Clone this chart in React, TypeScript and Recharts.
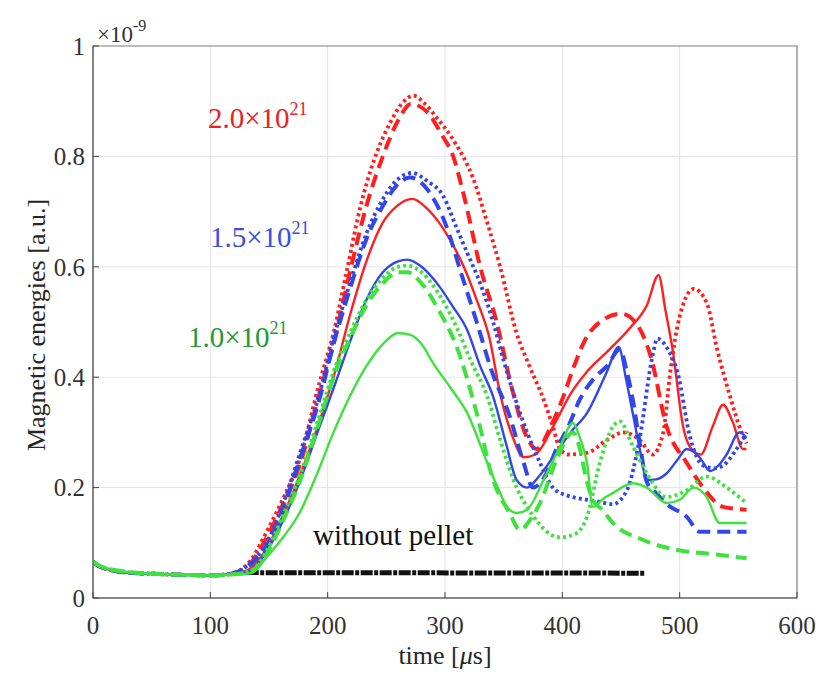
import { CartesianGrid, Line, LineChart, ReferenceArea, XAxis, YAxis } from "recharts"

// time [us] vs magnetic energy [x1e-9 a.u.]
type Pair = [number, number]

const xTicks = [0, 100, 200, 300, 400, 500, 600]
const yTicks = [0, 0.2, 0.4, 0.6, 0.8, 1]
const yTickLabels = ["0", "0.2", "0.4", "0.6", "0.8", "1"]

const noPellet: Pair[] = [[131, 0.046], [470, 0.045]]

const red20Dotted: Pair[] = [
  [0, 0.065], [5, 0.058], [15, 0.051], [30, 0.046], [50, 0.044], [75, 0.042], [100, 0.041], [118, 0.044],
  [135, 0.07], [148, 0.12], [162, 0.18], [176, 0.25], [193, 0.39], [205, 0.48], [217, 0.6], [228, 0.71],
  [239, 0.79], [253, 0.86], [263, 0.895], [273, 0.91], [283, 0.895], [293, 0.87], [307, 0.83], [324, 0.76],
  [336, 0.68], [347, 0.6], [361, 0.48], [372, 0.42], [384, 0.36], [392, 0.31], [398, 0.27], [405, 0.26],
  [421, 0.263], [438, 0.286], [452, 0.3], [466, 0.286], [477, 0.26], [486, 0.3], [492, 0.41], [500, 0.51],
  [512, 0.56], [523, 0.535], [532, 0.45], [543, 0.365], [551, 0.31], [557, 0.28],
]

const red20Dashed: Pair[] = [
  [0, 0.065], [5, 0.058], [15, 0.051], [30, 0.046], [50, 0.044], [75, 0.042], [100, 0.041], [118, 0.044],
  [135, 0.065], [148, 0.11], [162, 0.17], [176, 0.24], [193, 0.37], [205, 0.46], [220, 0.6], [233, 0.71],
  [247, 0.8], [260, 0.865], [271, 0.895], [285, 0.88], [297, 0.84], [307, 0.8], [316, 0.73], [330, 0.6],
  [344, 0.5], [357, 0.38], [370, 0.29], [378, 0.27], [390, 0.31], [400, 0.36], [410, 0.42], [420, 0.47],
  [432, 0.5], [450, 0.515], [462, 0.5], [475, 0.44], [489, 0.31], [506, 0.245], [520, 0.2], [537, 0.165],
  [557, 0.16],
]

const red20Solid: Pair[] = [
  [0, 0.065], [5, 0.058], [15, 0.051], [30, 0.046], [50, 0.044], [75, 0.042], [100, 0.041], [120, 0.043],
  [135, 0.055], [148, 0.09], [162, 0.15], [176, 0.22], [193, 0.32], [205, 0.4], [220, 0.52], [233, 0.61],
  [247, 0.68], [259, 0.71], [272, 0.723], [285, 0.705], [295, 0.68], [304, 0.65], [316, 0.6], [327, 0.54],
  [338, 0.47], [347, 0.37], [358, 0.29], [367, 0.255], [377, 0.26], [392, 0.31], [407, 0.37], [421, 0.41],
  [440, 0.45], [458, 0.49], [472, 0.53], [482, 0.585], [488, 0.52], [494, 0.45], [503, 0.31], [510, 0.27],
  [518, 0.26], [528, 0.31], [537, 0.35], [545, 0.32], [554, 0.27], [557, 0.27],
]

const blue15Dotted: Pair[] = [
  [0, 0.065], [5, 0.058], [15, 0.051], [30, 0.046], [50, 0.044], [75, 0.042], [100, 0.041], [118, 0.044],
  [135, 0.065], [148, 0.1], [162, 0.17], [176, 0.26], [193, 0.37], [205, 0.47], [219, 0.57], [233, 0.66],
  [245, 0.715], [258, 0.755], [272, 0.77], [285, 0.755], [298, 0.73], [310, 0.67], [319, 0.625], [330, 0.57],
  [341, 0.5], [350, 0.43], [360, 0.36], [370, 0.3], [381, 0.245], [392, 0.2], [405, 0.185], [415, 0.18],
  [430, 0.175], [443, 0.17], [455, 0.195], [466, 0.29], [477, 0.44], [481, 0.47], [490, 0.45], [498, 0.41],
  [509, 0.29], [520, 0.24], [530, 0.235], [537, 0.24], [547, 0.265], [557, 0.3],
]

const blue15Dashed: Pair[] = [
  [0, 0.065], [5, 0.058], [15, 0.051], [30, 0.046], [50, 0.044], [75, 0.042], [100, 0.041], [118, 0.044],
  [135, 0.062], [148, 0.095], [162, 0.16], [176, 0.25], [193, 0.36], [205, 0.46], [219, 0.56], [233, 0.65],
  [247, 0.71], [260, 0.75], [270, 0.762], [285, 0.74], [300, 0.68], [315, 0.58], [327, 0.5], [340, 0.41],
  [355, 0.33], [367, 0.245], [375, 0.2], [385, 0.22], [395, 0.27], [405, 0.31], [415, 0.36], [428, 0.4],
  [438, 0.42], [449, 0.45], [455, 0.41], [460, 0.36], [466, 0.28], [472, 0.21], [480, 0.19], [489, 0.17],
  [506, 0.147], [517, 0.12], [535, 0.12], [557, 0.12],
]

const blue15Solid: Pair[] = [
  [0, 0.065], [5, 0.058], [15, 0.051], [30, 0.046], [50, 0.044], [75, 0.042], [100, 0.041], [120, 0.043],
  [135, 0.05], [148, 0.085], [162, 0.14], [176, 0.21], [193, 0.31], [205, 0.38], [220, 0.47], [233, 0.54],
  [247, 0.59], [260, 0.61], [268, 0.613], [280, 0.6], [295, 0.565], [306, 0.53], [319, 0.485], [330, 0.42],
  [341, 0.365], [352, 0.28], [361, 0.214], [370, 0.2], [380, 0.22], [392, 0.255], [407, 0.3], [421, 0.335],
  [438, 0.41], [448, 0.455], [454, 0.4], [460, 0.335], [466, 0.27], [472, 0.214], [480, 0.215], [489, 0.226],
  [498, 0.25], [506, 0.27], [512, 0.265], [517, 0.255], [526, 0.23], [533, 0.24], [540, 0.26], [551, 0.3],
  [557, 0.29],
]

const green10Dotted: Pair[] = [
  [0, 0.066], [5, 0.059], [15, 0.052], [30, 0.047], [50, 0.044], [75, 0.042], [100, 0.041], [120, 0.043],
  [135, 0.05], [148, 0.085], [162, 0.15], [176, 0.22], [193, 0.33], [205, 0.41], [219, 0.48], [233, 0.54],
  [247, 0.58], [260, 0.6], [268, 0.602], [280, 0.59], [295, 0.55], [310, 0.49], [322, 0.43], [336, 0.365],
  [348, 0.28], [361, 0.2], [370, 0.165], [380, 0.135], [390, 0.115], [398, 0.11], [410, 0.115], [421, 0.147],
  [432, 0.245], [443, 0.31], [449, 0.32], [460, 0.275], [472, 0.226], [489, 0.183], [506, 0.195], [523, 0.22],
  [540, 0.2], [557, 0.172],
]

const green10Dashed: Pair[] = [
  [0, 0.066], [5, 0.059], [15, 0.052], [30, 0.047], [50, 0.044], [75, 0.042], [100, 0.041], [120, 0.043],
  [135, 0.048], [148, 0.08], [162, 0.14], [176, 0.21], [193, 0.32], [205, 0.4], [219, 0.47], [233, 0.53],
  [247, 0.57], [260, 0.59], [268, 0.59], [280, 0.57], [295, 0.52], [310, 0.455], [327, 0.335], [341, 0.214],
  [355, 0.154], [364, 0.123], [372, 0.14], [381, 0.172], [395, 0.25], [409, 0.3], [415, 0.27], [421, 0.21],
  [426, 0.178], [434, 0.16], [443, 0.136], [469, 0.105], [498, 0.087], [526, 0.08], [557, 0.072],
]

const green10Solid: Pair[] = [
  [0, 0.066], [5, 0.059], [15, 0.052], [30, 0.047], [50, 0.044], [75, 0.042], [100, 0.041], [120, 0.042],
  [135, 0.045], [148, 0.074], [162, 0.11], [176, 0.154], [190, 0.22], [205, 0.3], [220, 0.37], [233, 0.42],
  [247, 0.46], [260, 0.48], [270, 0.477], [280, 0.46], [290, 0.425], [305, 0.38], [319, 0.335], [336, 0.245],
  [345, 0.2], [353, 0.165], [361, 0.154], [370, 0.16], [384, 0.214], [398, 0.274], [409, 0.317], [415, 0.29],
  [421, 0.245], [426, 0.165], [435, 0.18], [443, 0.19], [460, 0.208], [472, 0.2], [489, 0.172], [500, 0.178],
  [512, 0.2], [523, 0.183], [534, 0.136], [557, 0.136],
]

const RED = "#ff1f1f"
const BLUE = "#3347e8"
const GREEN = "#3ee23e"
const SERIF = "'Liberation Serif', 'Times New Roman', serif"

const pts = (arr: Pair[]) => arr.map(([t, e]) => ({ t, e }))

const SOLID = { strokeWidth: 2.4 }
const DASHED = { strokeWidth: 4, strokeDasharray: "13 7" }
const DOTTED = { strokeWidth: 3.8, strokeDasharray: "3 3.2" }

const series = [
  { key: "r-dot", data: red20Dotted, color: RED, style: DOTTED },
  { key: "r-dash", data: red20Dashed, color: RED, style: DASHED },
  { key: "r-solid", data: red20Solid, color: RED, style: SOLID },
  { key: "b-dot", data: blue15Dotted, color: BLUE, style: DOTTED },
  { key: "b-dash", data: blue15Dashed, color: BLUE, style: DASHED },
  { key: "b-solid", data: blue15Solid, color: BLUE, style: SOLID },
  { key: "g-solid", data: green10Solid, color: GREEN, style: SOLID },
  { key: "g-dash", data: green10Dashed, color: GREEN, style: DASHED },
  { key: "g-dot", data: green10Dotted, color: GREEN, style: DOTTED },
]

function Exp({ children, rise = 13, size = 18 }: { children: string; rise?: number; size?: number }) {
  return <span style={{ fontSize: size, position: "relative", top: -rise }}>{children}</span>
}

export default function App() {
  const tickStyle = { fontSize: 25, fill: "#333", fontFamily: SERIF }
  const note = (color: string) => ({ position: "absolute" as const, fontSize: 29, lineHeight: 1, color, whiteSpace: "nowrap" as const })
  return (
    <div style={{ position: "relative", width: 819, height: 668, fontFamily: SERIF, background: "#fff" }}>
      <LineChart width={819} height={668} margin={{ top: 38, right: 30, bottom: 38, left: 25 }}>
        <CartesianGrid stroke="#e4e4e4" strokeWidth={1} />
        <XAxis
          dataKey="t"
          type="number"
          domain={[0, 600]}
          ticks={xTicks}
          height={40}
          tick={tickStyle}
          tickSize={-6}
          tickMargin={24}
          tickLine={{ stroke: "#444" }}
          axisLine={{ stroke: "#555" }}
          allowDataOverflow
        />
        <YAxis
          type="number"
          domain={[0, 1]}
          ticks={yTicks}
          width={60}
          tick={tickStyle}
          tickFormatter={(v: number) => yTickLabels[yTicks.indexOf(v)] ?? String(v)}
          tickSize={-6}
          tickMargin={14}
          tickLine={{ stroke: "#444" }}
          axisLine={{ stroke: "#555" }}
          allowDataOverflow
        />
        <ReferenceArea x1={0} x2={600} y1={0} y2={1} fill="none" stroke="#888" strokeWidth={1.2} />
        <Line
          data={pts(noPellet)}
          dataKey="e"
          stroke="#111"
          strokeWidth={5}
          strokeDasharray="12 1.5 4 1.5"
          dot={false}
          isAnimationActive={false}
        />
        {series.map((s) => (
          <Line
            key={s.key}
            data={pts(s.data)}
            dataKey="e"
            type="monotone"
            stroke={s.color}
            {...s.style}
            dot={false}
            isAnimationActive={false}
          />
        ))}
      </LineChart>

      <div style={{ position: "absolute", left: 89, top: 15, fontSize: 23, lineHeight: 1, color: "#333" }}>
        ×10<Exp size={16} rise={11}>-9</Exp>
      </div>
      <div
        style={{
          position: "absolute",
          left: 29,
          top: 317,
          transform: "translate(-50%, -50%) rotate(-90deg)",
          fontSize: 26,
          color: "#262626",
          whiteSpace: "nowrap",
        }}
      >
        Magnetic energies [a.u.]
      </div>
      <div style={{ position: "absolute", left: 437, top: 635, transform: "translateX(-50%)", fontSize: 26, lineHeight: 1, color: "#262626", whiteSpace: "nowrap" }}>
        time [<i>μ</i>s]
      </div>

      <div style={{ ...note("#ee2020"), left: 200, top: 96 }}>
        2.0×10<Exp>21</Exp>
      </div>
      <div style={{ ...note("#3a4ee0"), left: 202, top: 215 }}>
        1.5×10<Exp>21</Exp>
      </div>
      <div style={{ ...note("#229933"), left: 180, top: 315 }}>
        1.0×10<Exp>21</Exp>
      </div>
      <div style={{ ...note("#111"), left: 305, top: 513 }}>without pellet</div>
    </div>
  )
}
